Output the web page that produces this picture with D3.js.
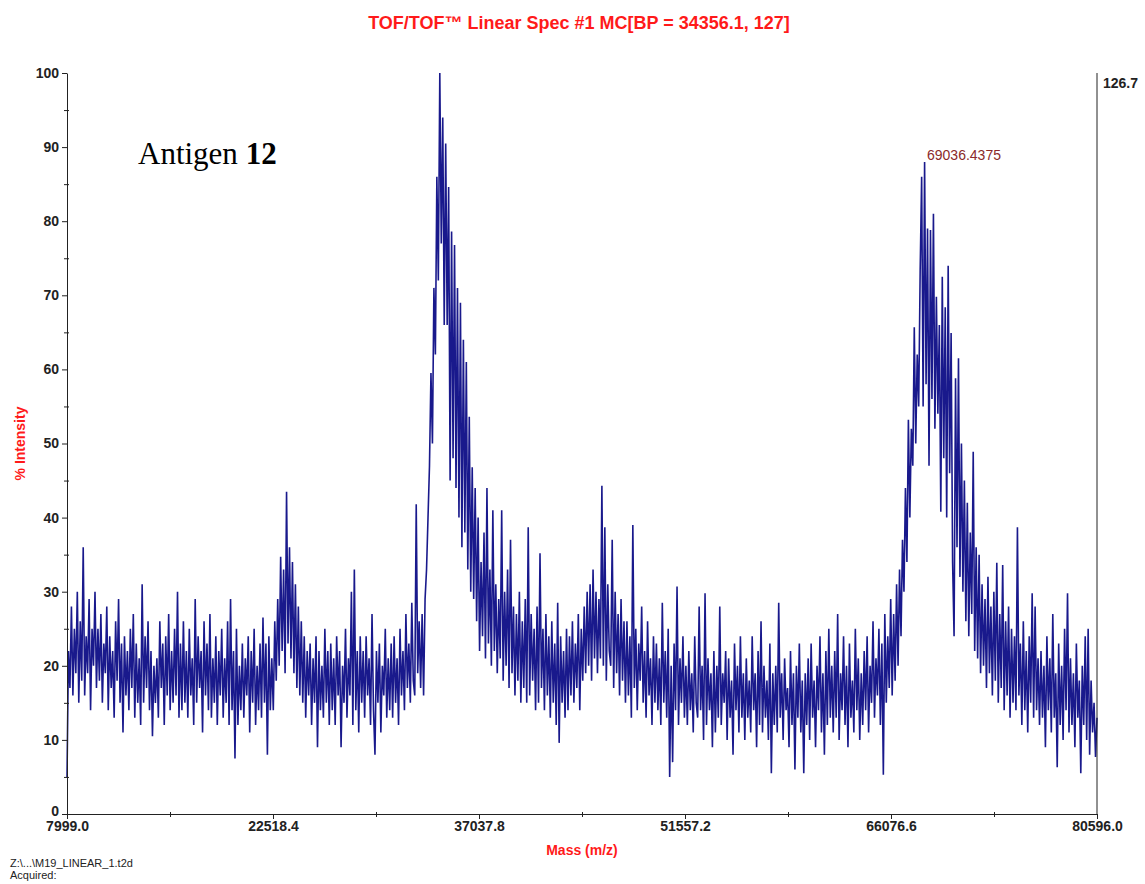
<!DOCTYPE html>
<html><head><meta charset="utf-8">
<script src="https://cdn.jsdelivr.net/npm/d3@7"></script>
<style>body{margin:0;background:#fff} svg{display:block}</style>
</head><body>
<svg id="chart" width="1145" height="884"></svg>
<script>
const titleText = "TOF/TOF\u2122 Linear Spec #1 MC[BP = 34356.1, 127]";
const xAxisTitle = "Mass (m/z)";
const yAxisTitle = "% Intensity";
const massRange = [7999.0, 80596.0];
const xTickValues = [7999.0, 22518.4, 37037.8, 51557.2, 66076.6, 80596.0];
const yTickValues = [0, 10, 20, 30, 40, 50, 60, 70, 80, 90, 100];
const yMinorTicks = [5, 15, 25, 35, 45, 55, 65, 75, 85, 95];
const maxCountsLabel = "126.7";
const peakMass = 69036.4375;
const peakValue = 88;
const peakText = "69036.4375";
const sampleLabel = "Antigen ";
const sampleNumber = "12";
const fileLines = ["Z:\\...\\M19_LINEAR_1.t2d", "Acquired:"];

// intensity (%), evenly sampled across massRange
const intensity = [
5,22,17,28,16,25,19,30,15,26,18,36,16,24,19,29,14,25,20,30,
17,25,18,27,15,23,19,28,14,24,17,22,13,26,18,29,15,23,11,24,
16,22,14,25,17,27,13,23,15,21,12,31,15,24,17,26,14,22,10.5,20,
15,21,13,26,17,23,12,24,16,27,14,22,15,25,16,30,13,23,14,26,
15,22,13,25,16,21,12,29,15,24,17,22,11,26,16,23,14,27,13,21,
15,24,12,22,16,25,13,21,15,26,12,29,14,22,7.5,25,12,20,14,23,
13,21,16,24,11,22,15,25,12,20,14,23,13,26.5,15,23,8,24,14,21,
14,26,18,29,20,34.7,22,33,19,43.5,23,36,21,34,19,31,17,28,16,26,
15,24,13,22,16,23,12,21,15,24,9,22,14,20,13,25,15,22,12,23,
14,21,12,24,16,22,9,20,15,25,13,21,16,30,12,33,14,22,11,24,
15,22,13,24,16,21,12,27,14,8,22,15,23,11,20,16,25,13,21,14,
23,13,24,15,21,12,25,16,22,14,27,17,23,15,28.5,18,16,41.8,19,26,
17,27,16,29,33,40,47,59.5,50,71,62,86,72,100,77,94,66,90.5,66,84.6,
45,78.6,48,76.8,44,71,40,69,36,64,38,61,33,53.6,30,46.8,29,44,26,40,
22,34,24,38,21,44,23,33,20,41,22,31,19,29,21,41,18,30,20,33,
17,37,19,28,16,27,18,30,15,26,17,29,15,38.7,16,27,18,25,14,28,
15,35.2,17,25,14,27,16,24,13,26,15,23,12,28.5,9.6,24,15,22,13,25,
14,24,16,26,15,23,17,27,14,25,18,28,19,30,20,31,18,33,21,30,
19,29,21,44.3,20,38.7,18,31,22,20,37,17,30,19,27,16,29,18,26,15,
26,16,24,13,39,17,25,14,23,18,28,15,22,13,26,16,21,12,24,15,
23,14,21,12,28.5,15,22,13,25,5,20,7,23,14,30.7,12,21,15,24,13,
20,12,22,14,19,11,24,15,13,28,14,20,10,29.8,12,21,14,19,9,22,
11,20,13,28,12,19,15,22,10,21,13,18,8,23,14,20,11,24,13,19,
10,21,13,18,11,24,14,19,9,22,12,26,11,20,13,18,10,23,5.5,19,
12,20,11,28.5,13,19,10,21,14,17,9,22,12,19,6,20,13,23,11,18,
5.5,19,12,21,10,23,13,18,9,20,14,24,11,19,8,22,12,25,13,20,
11,22,13,27,10,19,14,24,12,20,9,23,13,18,11,25,14,21,10,19,
12,22,14,24,11,20,15,26,13,21,16,25,12,23,5.3,27,15,24,17,29,
16,27,18,31,20,33,24,37,30,44,34,53.2,40,52,47,65.7,50,62,55,73.4,
86,55,88,58,79,47,78.8,56,81,52,69.8,54,66,40.8,72.5,48,68.4,40,74,46,
64.9,34,24,58.8,36,61.5,32,50,30,45,26,42,24,38,27,48.9,22,36,21,35,
19,31,20,29,17,32,19,28,16,30,18,33.9,15,27,17,33.6,14,26,16,28,
13,25,15,24,14,38.7,16,23,12,26,14,22,11,24,15,29.8,13,28,14,21,
12,22,13,20,9,24,14,21,11,27,13,19,6.3,23,12,20,10,25,14,29.8,
11,21,12,19,9,23,13,18,5.5,20,12,24,10,25,8,18,11,15,7.7,13
];

const svg = d3.select("#chart");
const X0 = 67, X1 = 1097, Y0 = 814, Y1 = 73;
const x = d3.scaleLinear().domain(massRange).range([X0, X1]);
const y = d3.scaleLinear().domain([0, 100]).range([Y0, Y1]);
const sampleMass = d3.scaleLinear().domain([0, intensity.length - 1]).range(massRange);

const axisFont = "Liberation Sans, Arial, sans-serif";
const ink = "#222";

// spectrum
svg.append("path")
  .datum(intensity)
  .attr("fill", "none")
  .attr("stroke", "#000080")
  .attr("stroke-width", 1.6)
  .attr("stroke-opacity", 0.9)
  .attr("stroke-linejoin", "bevel")
  .attr("d", d3.line().x((d, i) => x(sampleMass(i))).y(d => y(d)));

// left axis
const gy = svg.append("g").attr("transform", `translate(${X0},0)`)
  .call(d3.axisLeft(y).tickValues(yTickValues).tickSize(5).tickSizeOuter(0).tickPadding(3).tickFormat(d3.format("d")));
gy.select(".domain").attr("stroke", ink);
gy.selectAll(".tick line").attr("stroke", ink);
gy.selectAll("text").attr("font-family", axisFont).attr("font-size", 14).attr("font-weight", "bold").attr("fill", ink);
gy.selectAll(".tick").filter(d => d === 0).select("text").attr("dy", "0.1em");
const gyMinor = svg.append("g").attr("transform", `translate(${X0 + 2},0)`)
  .call(d3.axisLeft(y).tickValues(yMinorTicks).tickSize(5).tickSizeOuter(0).tickFormat(""));
gyMinor.select(".domain").remove();
gyMinor.selectAll(".tick line").attr("stroke", ink);

// bottom axis
const gx = svg.append("g").attr("transform", `translate(0,${Y0})`)
  .call(d3.axisBottom(x).tickValues(xTickValues).tickSize(5).tickSizeOuter(0).tickPadding(2).tickFormat(d3.format(".1f")));
gx.select(".domain").attr("stroke", ink);
gx.selectAll(".tick line").attr("stroke", ink);
gx.selectAll("text").attr("font-family", axisFont).attr("font-size", 14).attr("font-weight", "bold").attr("fill", ink);
const xMinor = d3.pairs(xTickValues).map(([a, b]) => (a + b) / 2);
const gxMinor = svg.append("g").attr("transform", `translate(0,${Y0 - 2})`)
  .call(d3.axisBottom(x).tickValues(xMinor).tickSize(5).tickSizeOuter(0).tickFormat(""));
gxMinor.select(".domain").remove();
gxMinor.selectAll(".tick line").attr("stroke", ink);

// right axis
svg.append("line").attr("x1", X1).attr("x2", X1).attr("y1", Y1).attr("y2", Y0).attr("stroke", ink);
svg.append("text").attr("x", X1 + 6).attr("y", Y1 + 15)
  .attr("font-family", axisFont).attr("font-size", 14).attr("font-weight", "bold").attr("fill", ink)
  .text(maxCountsLabel);

// title
svg.append("text").attr("x", (X0 + X1) / 2 - 3).attr("y", 29).attr("text-anchor", "middle")
  .attr("font-family", axisFont).attr("font-size", 18).attr("font-weight", "bold").attr("fill", "#ff1a1a")
  .text(titleText);

// axis titles
svg.append("text").attr("x", (X0 + X1) / 2).attr("y", 855).attr("text-anchor", "middle")
  .attr("font-family", axisFont).attr("font-size", 14).attr("font-weight", "bold").attr("fill", "#ff1a1a")
  .text(xAxisTitle);
svg.append("text").attr("transform", `translate(25,${(Y0 + Y1) / 2}) rotate(-90)`).attr("text-anchor", "middle")
  .attr("font-family", axisFont).attr("font-size", 14).attr("font-weight", "bold").attr("fill", "#ff1a1a")
  .text(yAxisTitle);

// sample label
const st = svg.append("text").attr("x", 138).attr("y", 164)
  .attr("font-family", "Liberation Serif, Times New Roman, serif").attr("font-size", 31).attr("fill", "#000");
st.append("tspan").text(sampleLabel);
st.append("tspan").attr("font-weight", "bold").text(sampleNumber);

// peak annotation
svg.append("text").attr("x", x(peakMass) - 6).attr("y", y(peakValue) - 2)
  .attr("font-family", axisFont).attr("font-size", 14).attr("fill", "#8b2a2a")
  .text(peakText);

// file info
fileLines.forEach((t, i) => {
  svg.append("text").attr("x", 10).attr("y", 867 + i * 12)
    .attr("font-family", axisFont).attr("font-size", 11).attr("fill", ink).text(t);
});
</script>
</body></html>
